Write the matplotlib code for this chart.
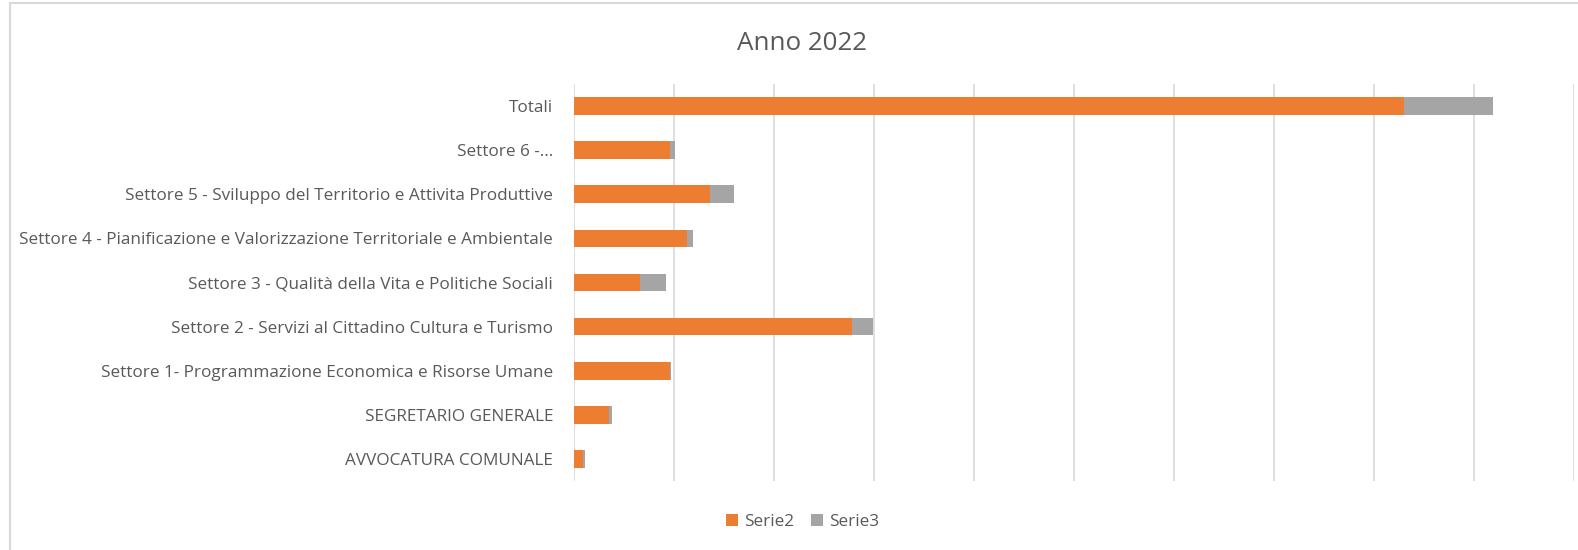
import matplotlib.pyplot as plt
from matplotlib.patches import Rectangle

plt.rcParams['font.family'] = ['Open Sans', 'DejaVu Sans']

categorie = ['AVVOCATURA COMUNALE',
             'SEGRETARIO GENERALE',
             'Settore 1- Programmazione Economica e Risorse Umane',
             'Settore 2 - Servizi al Cittadino Cultura e Turismo',
             'Settore 3 - Qualità della Vita e Politiche Sociali',
             'Settore 4 - Pianificazione e Valorizzazione Territoriale e Ambientale',
             'Settore 5 - Sviluppo del Territorio e Attivita Produttive',
             'Settore 6 -...',
             'Totali']
serie2 = [9, 35, 96, 278, 66, 113, 136, 96, 830]
serie3 = [2, 3, 1, 21, 26, 6, 24, 5, 89]

testo = '#595959'
fig = plt.figure(figsize=(15.78, 5.5), dpi=100)
ax = fig.add_axes([574/1578, 1 - 481/550, 1000/1578, 397/550])

y = range(len(categorie))
ax.barh(y, serie2, height=0.40, color='#ED7D31', label='Serie2', zorder=3)
ax.barh(y, serie3, left=serie2, height=0.40, color='#A5A5A5', label='Serie3', zorder=3)

ax.set_xlim(0, 1000)
ax.set_ylim(-0.5, len(categorie) - 0.5)
ax.set_xticks(range(0, 1001, 100))
ax.set_xticklabels([])
ax.set_yticks(list(y))
ax.set_yticklabels(categorie, fontsize=12.3, color=testo)
ax.tick_params(length=0, pad=15)
ax.grid(axis='x', color='#D9D9D9', linewidth=1.2, zorder=0)
for s in ax.spines.values():
    s.set_visible(False)

fig.text(802/1578, 1 - 44/550, 'Anno 2022', ha='center', va='center',
         fontsize=18.7, color=testo)

leg = fig.legend(loc='center', bbox_to_anchor=(803/1578, 1 - 522/550), ncol=2,
                 frameon=False, fontsize=12.3, handlelength=0.65, handleheight=0.65,
                 handletextpad=0.4, columnspacing=1.0)
for t in leg.get_texts():
    t.set_color(testo)

fig.patches.append(Rectangle((10/1578, -0.1), 1.2, 1.1 - 3/550, transform=fig.transFigure,
                             fill=False, edgecolor='#D9D9D9', linewidth=1.5))

fig.savefig('out.png', dpi=100)
